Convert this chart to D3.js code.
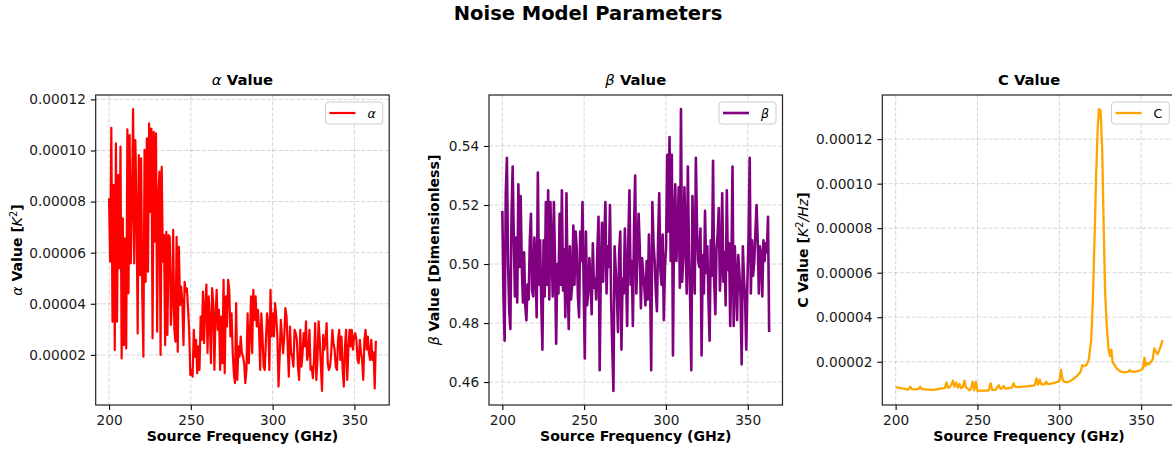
<!DOCTYPE html>
<html>
<head>
<meta charset="utf-8">
<title>Noise Model Parameters</title>
<script src="https://cdn.jsdelivr.net/npm/d3@7"></script>
<style>
    body { margin: 0; background: #ffffff; }
    svg { display: block; font-family: "DejaVu Sans", sans-serif; }
</style>
</head>
<body>
<div id="noise-vis"></div>
<script>
// ---------------- data ----------------

// alpha and beta share one frequency grid: 200 GHz upwards in 0.7 GHz steps
const freqStart = 200;
const freqStep = 0.7;

// alpha, in units of 1e-5 K^2
const alphaUnit = 1e-5;
const alphaValues = [
    8.13, 5.65, 10.89, 3.30, 8.65, 2.19, 10.28, 3.30, 9.04, 5.39,
    10.15, 1.86, 7.34, 2.38, 6.56, 2.25, 10.83, 4.41, 10.60, 5.58,
    7.86, 11.62, 5.58, 10.41, 7.73, 2.84, 9.82, 5.12, 9.69, 4.34,
    1.93, 10.02, 4.86, 10.47, 5.25, 11.06, 7.60, 10.86, 2.65, 10.73,
    6.43, 10.67, 2.91, 8.26, 9.17, 2.00, 9.36, 5.65, 6.69, 2.38,
    6.82, 2.78, 6.69, 6.62, 3.17, 4.08, 6.89, 3.04, 2.52, 6.62,
    2.12, 6.23, 3.95, 4.67, 4.08, 2.38, 4.86, 4.47, 4.60, 3.82,
    2.91, 1.21,
    1.41, 1.15, 2.98, 1.93, 2.59, 1.28, 2.33, 1.41, 3.50, 2.59,
    4.48, 2.46, 3.90, 4.75, 2.07, 4.29, 3.37, 1.67, 4.61, 4.03,
    1.41, 3.50, 4.55, 2.98, 3.76, 1.41, 3.50, 1.67, 4.94, 1.28,
    4.29, 3.11, 4.94, 4.55, 2.72, 3.63, 2.07, 1.28, 0.89, 4.03,
    1.02, 2.33, 1.93, 2.72, 2.07, 1.93, 1.67, 0.89, 1.41, 3.63,
    1.67, 2.72, 4.29, 2.07, 4.55, 3.37, 4.29, 3.11, 3.76, 2.98,
    1.41, 3.63, 2.72, 1.54, 1.41, 2.59, 3.63, 3.24, 1.41, 4.55,
    2.72, 3.63, 2.72, 4.03, 3.50, 2.72, 0.76, 1.93, 3.37, 2.72,
    2.07, 2.72, 3.83, 3.50, 2.33, 1.15, 3.11, 2.07, 1.93, 1.54,
    2.98, 2.85, 2.59, 1.54, 1.02, 2.98, 1.54, 2.07, 2.85, 2.33,
    3.31, 1.80, 2.07, 2.98, 1.41, 1.54, 1.09, 1.80, 3.24, 1.02,
    1.80, 3.31, 2.59, 1.54, 0.59, 2.78, 2.20, 2.52, 3.24, 1.67,
    1.41, 1.54, 2.07, 2.98, 2.46, 2.20, 1.54, 1.41, 2.59, 2.98,
    1.80, 2.72, 1.41, 0.76, 2.33, 2.98, 1.02, 2.20, 2.98, 2.33,
    2.98, 2.20, 2.72, 2.85, 2.59, 1.80, 1.67, 2.59, 2.07, 1.80,
    1.02, 2.59, 2.98, 2.20, 2.72, 2.07, 1.80, 2.59, 1.80, 2.10,
    0.69, 2.55
];

// beta, dimensionless
const betaValues = [
    0.518, 0.489, 0.474, 0.524, 0.536, 0.501, 0.484, 0.478, 0.516, 0.533,
    0.509, 0.489, 0.509, 0.487, 0.527, 0.499, 0.523, 0.499, 0.487, 0.504,
    0.486, 0.481, 0.493, 0.488, 0.508, 0.517, 0.491, 0.489, 0.509, 0.499,
    0.482, 0.531, 0.493, 0.508, 0.487, 0.471, 0.508, 0.489, 0.521, 0.493,
    0.525, 0.488, 0.521, 0.505, 0.489, 0.521, 0.501, 0.473, 0.500, 0.490,
    0.517, 0.493, 0.525, 0.491, 0.505, 0.482, 0.524, 0.493, 0.478, 0.506,
    0.488, 0.493, 0.513, 0.493, 0.511, 0.505, 0.489, 0.482, 0.511, 0.501,
    0.521, 0.493,
    0.468, 0.511, 0.486, 0.490, 0.502, 0.495, 0.483, 0.507, 0.492, 0.495,
    0.488, 0.505, 0.516, 0.464, 0.498, 0.514, 0.494, 0.509, 0.521, 0.490,
    0.506, 0.499, 0.520, 0.488, 0.472, 0.457, 0.506, 0.498, 0.490, 0.477,
    0.504, 0.511, 0.471, 0.495, 0.490, 0.512, 0.497, 0.479, 0.508, 0.525,
    0.493, 0.501, 0.479, 0.512, 0.530, 0.490, 0.503, 0.517, 0.506, 0.485,
    0.502, 0.497, 0.492, 0.486, 0.501, 0.488, 0.510, 0.495, 0.464, 0.521,
    0.507, 0.501, 0.491, 0.484, 0.508, 0.524, 0.498, 0.493, 0.510, 0.481,
    0.499, 0.506, 0.537, 0.511, 0.543, 0.501, 0.537, 0.469, 0.516, 0.527,
    0.501, 0.511, 0.526, 0.492, 0.5525, 0.494, 0.502, 0.526, 0.509, 0.490,
    0.533, 0.503, 0.488, 0.464, 0.523, 0.505, 0.490, 0.536, 0.512, 0.501,
    0.499, 0.512, 0.469, 0.503, 0.490, 0.518, 0.497, 0.506, 0.488, 0.474,
    0.508, 0.496, 0.535, 0.494, 0.483, 0.505, 0.510, 0.519, 0.491, 0.500,
    0.524, 0.494, 0.504, 0.486, 0.525, 0.498, 0.507, 0.479, 0.499, 0.533,
    0.479, 0.506, 0.495, 0.481, 0.503, 0.497, 0.489, 0.466, 0.506, 0.495,
    0.488, 0.471, 0.494, 0.509, 0.536, 0.490, 0.508, 0.496, 0.501, 0.511,
    0.520, 0.508, 0.490, 0.506, 0.503, 0.489, 0.508, 0.501, 0.507, 0.504,
    0.516, 0.477
];

// C is smooth, so it is kept with its own frequencies (GHz)
const cUnit = 1e-5;
const cFrequencies = [
    200, 202, 204, 206, 207, 208, 209, 210, 212, 214, 215, 216, 218, 220, 222, 225,
    228, 230, 231, 232, 233, 234, 235, 236, 237, 238, 239, 240, 241, 242, 243, 244,
    245, 246, 247, 248, 249, 250, 252, 255, 257, 258, 259, 261, 263, 264, 265, 266,
    267, 269, 271, 272, 273, 275, 278, 281, 284, 285, 286, 287, 288, 289, 291, 292,
    293, 295, 297, 298, 300, 301, 302, 303, 305, 307, 309, 311, 313, 314, 315, 316,
    317, 318, 319.5, 320.5, 321.5, 322.5, 323.5, 324.2, 324.7, 325.2, 326.2, 327, 328, 329, 330, 331,
    331.8, 332.5, 333, 335, 337, 339, 341, 342, 343, 344, 346, 348, 350, 351, 352, 352.6,
    353.5, 354.5, 356, 357, 358, 359, 360, 361, 362, 363
];
const cValues = [
    0.85, 0.84, 0.80, 0.78, 0.74, 0.77, 0.88, 0.77, 0.76, 0.78, 0.88, 0.77, 0.76, 0.75, 0.74, 0.76,
    0.80, 0.82, 1.07, 0.83, 0.86, 0.95, 1.15, 0.88, 1.06, 0.84, 1.00, 0.82, 0.86, 1.15, 0.84, 0.80,
    0.72, 0.78, 1.10, 0.72, 1.10, 0.69, 0.70, 0.70, 0.72, 1.03, 0.74, 0.74, 0.95, 0.78, 0.80, 0.91,
    0.79, 0.82, 0.84, 1.03, 0.88, 0.86, 0.88, 0.90, 0.93, 0.95, 1.25, 0.97, 1.20, 0.98, 0.98, 1.10,
    0.99, 1.02, 1.05, 1.08, 1.12, 1.63, 1.20, 1.10, 1.08, 1.15, 1.25, 1.38, 1.55, 1.85, 1.80, 1.82,
    1.90, 2.10, 3.00, 4.80, 7.50, 10.40, 12.60, 13.35, 13.05, 13.30, 11.50, 8.40, 5.10, 3.60, 2.60, 2.25,
    2.55, 2.00, 1.93, 1.70, 1.58, 1.52, 1.53, 1.55, 1.63, 1.56, 1.55, 1.58, 1.63, 1.70, 2.18, 1.80,
    1.95, 1.88, 2.00, 2.10, 2.60, 2.45, 2.34, 2.50, 2.70, 2.97
];

// tick labels
const freqTicks = [200, 250, 300, 350];
const alphaTicks = [0.00002, 0.00004, 0.00006, 0.00008, 0.00010, 0.00012];
const betaTicks = [0.46, 0.48, 0.50, 0.52, 0.54];
const cTicks = [0.00002, 0.00004, 0.00006, 0.00008, 0.00010, 0.00012];

// ---------------- layout ----------------
const figWidth = 1172, figHeight = 452;
const panelTop = 95, panelBottom = 405, panelWidth = 293.5;
const fontFamily = "DejaVu Sans";

let svg = d3.select("#noise-vis").append("svg")
    .attr("width", figWidth)
    .attr("height", figHeight);

svg.append("rect").attr("width", figWidth).attr("height", figHeight).attr("fill", "#ffffff");

/**
 * Writes a label made of plain (bold) parts and mathtext (italic) parts
 */
function writeParts(textSel, parts, size){
    parts.forEach(function(p){
        let ts = textSel.append("tspan").text(p.t);
        if (p.s === "math") {
            ts.attr("font-style", "italic").attr("font-weight", "normal");
        } else if (p.s === "sup") {
            ts.attr("font-weight", "normal").attr("font-size", size * 0.7).attr("baseline-shift", "super");
        } else if (p.s === "plain") {
            ts.attr("font-weight", "normal");
        }
    });
}

/**
 * Constructor for one subplot
 */
function NoisePanel(opts){
    let self = this;
    self.opts = opts;
    self.init();
    self.update();
}

/**
 * Builds scales, grid, axes and labels
 */
NoisePanel.prototype.init = function(){
    let self = this;
    let o = self.opts;

    self.g = svg.append("g");
    self.left = o.left;
    self.right = o.left + panelWidth;

    // matplotlib style 5% margins around the data
    let xExt = d3.extent(o.x), yExt = d3.extent(o.y);
    let xPad = (xExt[1] - xExt[0]) * 0.05, yPad = (yExt[1] - yExt[0]) * 0.05;
    self.x = d3.scaleLinear().domain([xExt[0] - xPad, xExt[1] + xPad]).range([self.left, self.right]);
    self.y = d3.scaleLinear().domain([yExt[0] - yPad, yExt[1] + yPad]).range([panelBottom, panelTop]);

    //dashed grid
    let grid = self.g.append("g")
        .attr("stroke", "#b0b0b0")
        .attr("stroke-opacity", 0.5)
        .attr("stroke-width", 1)
        .attr("stroke-dasharray", "4.1,1.8");
    grid.selectAll(".vg").data(freqTicks).enter().append("line")
        .attr("x1", d => self.x(d)).attr("x2", d => self.x(d))
        .attr("y1", panelTop).attr("y2", panelBottom);
    grid.selectAll(".hg").data(o.yTicks).enter().append("line")
        .attr("x1", self.left).attr("x2", self.right)
        .attr("y1", d => self.y(d)).attr("y2", d => self.y(d));

    self.lineLayer = self.g.append("g");

    //axes
    let xAxis = d3.axisBottom(self.x).tickValues(freqTicks).tickFormat(d3.format("d"))
        .tickSize(4.9).tickPadding(4.9);
    let yAxis = d3.axisLeft(self.y).tickValues(o.yTicks).tickFormat(o.yFormat)
        .tickSize(4.9).tickPadding(4.9);

    let gx = self.g.append("g").attr("transform", "translate(0," + panelBottom + ")").call(xAxis);
    let gy = self.g.append("g").attr("transform", "translate(" + self.left + ",0)").call(yAxis);
    [gx, gy].forEach(function(a){
        a.attr("font-family", fontFamily).attr("font-size", 13.7);
        a.select(".domain").remove();
        a.selectAll(".tick line").attr("stroke", "#000").attr("stroke-width", 1.1);
        a.selectAll(".tick text").attr("fill", "#1a1a1a");
    });

    //frame
    self.g.append("rect")
        .attr("x", self.left).attr("y", panelTop)
        .attr("width", panelWidth).attr("height", panelBottom - panelTop)
        .attr("fill", "none").attr("stroke", "#222").attr("stroke-width", 1.2);

    //titles and labels
    let title = self.g.append("text")
        .attr("x", (self.left + self.right) / 2).attr("y", 84.5)
        .attr("text-anchor", "middle").attr("font-weight", "bold")
        .attr("font-size", 14.8).attr("fill", "#000");
    writeParts(title, o.title, 14.8);

    self.g.append("text")
        .attr("x", (self.left + self.right) / 2).attr("y", 441)
        .attr("text-anchor", "middle").attr("font-weight", "bold")
        .attr("font-size", 14.1).attr("fill", "#000")
        .text("Source Frequency (GHz)");

    let ylab = self.g.append("text")
        .attr("transform", "translate(" + (self.left - o.yLabelOffset) + "," + ((panelTop + panelBottom) / 2) + ") rotate(-90)")
        .attr("text-anchor", "middle").attr("font-weight", "bold")
        .attr("font-size", 14.1).attr("fill", "#000");
    writeParts(ylab, o.yLabel, 14.1);
};

/**
 * Draws the series line and its legend
 */
NoisePanel.prototype.update = function(){
    let self = this;
    let o = self.opts;
    let pts = o.x.map((d, i) => [d, o.y[i]]);

    let line = d3.line().x(d => self.x(d[0])).y(d => self.y(d[1]));
    self.lineLayer.append("path")
        .datum(pts)
        .attr("d", line)
        .attr("fill", "none")
        .attr("stroke", o.color)
        .attr("stroke-width", o.lineWidth)
        .attr("stroke-linejoin", "round");

    //legend, top right
    let leg = self.g.append("g");
    let box = leg.append("rect")
        .attr("fill", "#ffffff").attr("fill-opacity", 0.8)
        .attr("stroke", "#cccccc").attr("stroke-width", 1)
        .attr("rx", 3).attr("ry", 3);
    let handle = leg.append("line")
        .attr("stroke", o.color).attr("stroke-width", o.lineWidth);
    let label = leg.append("text")
        .attr("font-size", 12.5).attr("fill", "#000");
    writeParts(label, o.legend, 12.5);

    let tw = label.node().getComputedTextLength();
    let w = 4 + 26 + 12 + tw + 7, h = 22;
    let bx = self.right - 6.5 - w, by = panelTop + 7;
    box.attr("x", bx).attr("y", by).attr("width", w).attr("height", h);
    handle.attr("x1", bx + 4).attr("x2", bx + 30).attr("y1", by + h / 2).attr("y2", by + h / 2);
    label.attr("x", bx + 42).attr("y", by + h / 2 + 4.5);
};

let gridFreqs = alphaValues.map((d, i) => freqStart + i * freqStep);

let panels = [
    new NoisePanel({
        left: 95.7,
        x: gridFreqs,
        y: alphaValues.map(d => d * alphaUnit),
        yTicks: alphaTicks,
        yFormat: d3.format(".5f"),
        color: "#ff0000",
        lineWidth: 2.2,
        title: [{t: "\u03b1", s: "math"}, {t: " Value"}],
        yLabel: [{t: "\u03b1", s: "math"}, {t: " Value ["}, {t: "K", s: "math"}, {t: "2", s: "sup"}, {t: "]"}],
        yLabelOffset: 73.7,
        legend: [{t: "\u03b1", s: "math"}]
    }),
    new NoisePanel({
        left: 489,
        x: betaValues.map((d, i) => freqStart + i * freqStep),
        y: betaValues,
        yTicks: betaTicks,
        yFormat: d3.format(".2f"),
        color: "#800080",
        lineWidth: 2.6,
        title: [{t: "\u03b2", s: "math"}, {t: " Value"}],
        yLabel: [{t: "\u03b2", s: "math"}, {t: " Value [Dimensionless]"}],
        yLabelOffset: 50.5,
        legend: [{t: "\u03b2", s: "math"}]
    }),
    new NoisePanel({
        left: 882.3,
        x: cFrequencies,
        y: cValues.map(d => d * cUnit),
        yTicks: cTicks,
        yFormat: d3.format(".5f"),
        color: "#ffa500",
        lineWidth: 2.3,
        title: [{t: "C Value"}],
        yLabel: [{t: "C Value ["}, {t: "K", s: "math"}, {t: "2", s: "sup"}, {t: "/Hz", s: "math"}, {t: "]"}],
        yLabelOffset: 74.8,
        legend: [{t: "C", s: "plain"}]
    })
];

//figure title
svg.append("text")
    .attr("x", 588).attr("y", 19.5)
    .attr("text-anchor", "middle")
    .attr("font-weight", "bold")
    .attr("font-size", 19.5)
    .attr("fill", "#000")
    .text("Noise Model Parameters");
</script>
</body>
</html>
